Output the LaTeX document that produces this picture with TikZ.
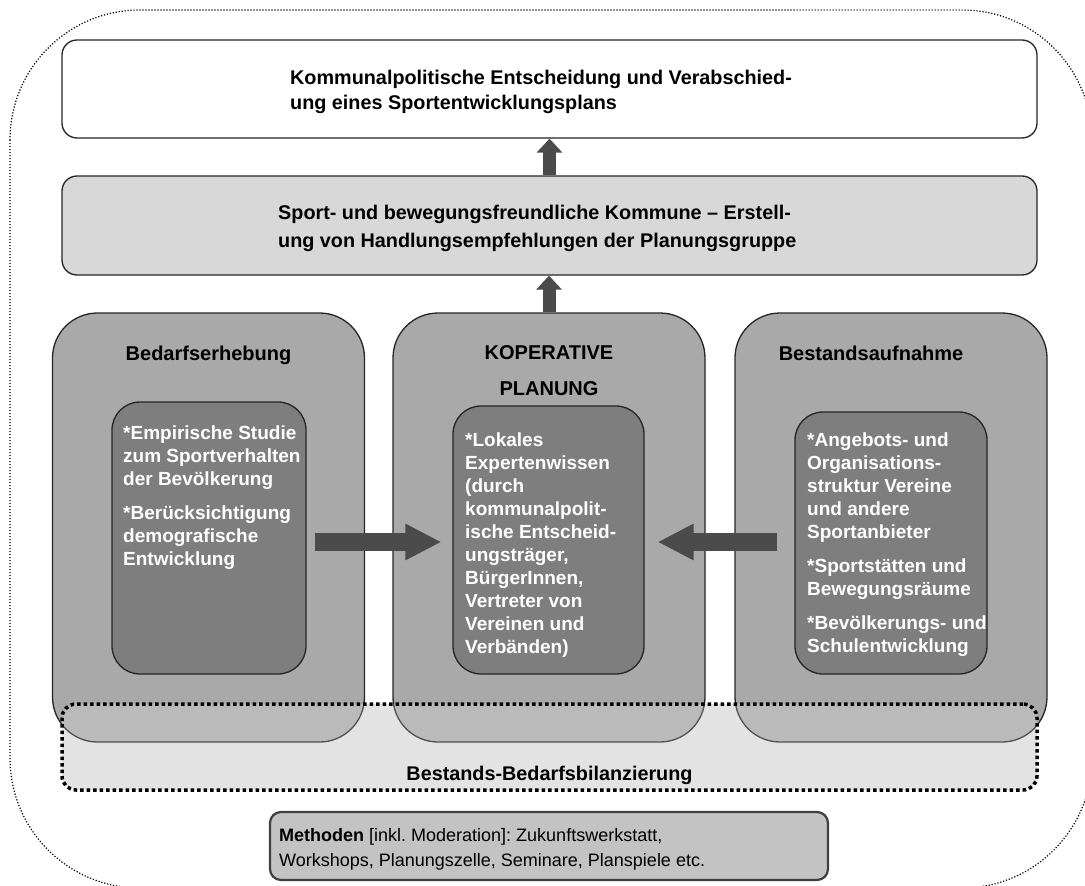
\documentclass[tikz,border=0pt]{standalone}
\usepackage{fontspec}
\setmainfont{Liberation Sans}
\usetikzlibrary{arrows.meta,calc}
\frenchspacing
\definecolor{edge}{HTML}{262626}
\definecolor{planfill}{HTML}{D8D8D8}
\definecolor{colfill}{HTML}{A9A9A9}
\definecolor{innerfill}{HTML}{7E7E7E}
\definecolor{arrowfill}{HTML}{4B4B4B}
\definecolor{bilfill}{HTML}{DDDDDD}
\definecolor{methfill}{HTML}{C3C3C3}
\definecolor{methedge}{HTML}{3F3F3F}
\begin{document}
\begin{tikzpicture}[x=1pt,y=-1pt,
  box/.style={draw=edge, line width=1.3pt, rounded corners=15pt, inner sep=0pt, minimum width=975pt},
  colbox/.style={draw=edge, line width=1.3pt, rounded corners=45pt, fill=colfill, minimum width=312pt, minimum height=429pt, inner sep=0pt},
  innerbox/.style={draw=edge, line width=1.3pt, rounded corners=28pt, fill=innerfill, inner sep=0pt},
  bilbox/.style={rounded corners=14pt, minimum width=975pt, minimum height=86pt, inner sep=0pt},
  headtxt/.style={font=\fontsize{19.8}{25}\selectfont\bfseries, align=left, inner sep=0pt, anchor=north west},
  coltxt/.style={font=\fontsize{20}{36}\selectfont\bfseries, inner sep=0pt, align=center},
  innertxt/.style={font=\fontsize{19}{23}\selectfont\bfseries, text=white, align=left, inner sep=0pt, anchor=north west},
  uparrow/.style={line width=13pt, color=arrowfill, -{Triangle[width=25pt,length=14pt]}},
  sidearrow/.style={line width=18pt, color=arrowfill, -{Triangle[width=34pt,length=36pt]}},
]
\useasboundingbox (0,0) rectangle (1085,886);
\clip (0,0) rectangle (1085,886);
% outer dotted frame
\draw[line width=1.2pt, dash pattern=on 1.2pt off 1.8pt, rounded corners=130pt] (10,10) rectangle (1092,888);

% top boxes
\node[box, fill=white, minimum height=98pt] (top) at (549.5,89) {};
\node[headtxt] (toptxt) at (290,70) {Kommunalpolitische Entscheidung und Verabschied-\\ung eines Sportentwicklungsplans};
\node[box, fill=planfill, minimum height=99pt] (plan) at (549.5,225.5) {};
\node[headtxt, font=\fontsize{19.8}{28}\selectfont\bfseries] (plantxt) at (278,205) {Sport- und bewegungsfreundliche Kommune – Erstell-\\ung von Handlungsempfehlungen der Planungsgruppe};

% balance box background
\node[bilbox, fill=bilfill] (bil) at (549.5,747) {};

% columns
\node[colbox] (bed) at (208.5,527.5) {};
\node[colbox] (coop) at (549,527.5) {};
\node[colbox] (best) at (891,527.5) {};

\draw[uparrow] (top.south |- plan.north) -- (top.south);
\draw[uparrow] (coop.north) -- (coop.north |- plan.south);

\node[coltxt, anchor=base] (bedtitle) at (208.5,360) {Bedarfserhebung};
\node[coltxt, anchor=north] (cooptitle) at (549,345) {KOPERATIVE\\PLANUNG};
\node[coltxt, anchor=base] (besttitle) at (871,360) {Bestandsaufnahme};

% inner boxes
\node[innerbox, minimum width=194pt, minimum height=272pt] (lin) at (209,538) {};
\node[innerbox, minimum width=191pt, minimum height=268pt] (min) at (548.5,540) {};
\node[innerbox, minimum width=192pt, minimum height=262pt] (rin) at (891,543) {};

\node[innertxt] (lintxt) at (123,426) {*Empirische Studie\\zum Sportverhalten\\der Bevölkerung\\[11pt]*Berücksichtigung\\demografische\\Entwicklung};
\node[innertxt] (mintxt) at (465,433) {*Lokales\\Expertenwissen\\(durch\\kommunalpolit-\\ische Entscheid-\\ungsträger,\\BürgerInnen,\\Vertreter von\\Vereinen und\\Verbänden)};
\node[innertxt] (rintxt) at (807,433) {*Angebots- und\\Organisations-\\struktur Vereine\\und andere\\Sportanbieter\\[11pt]*Sportstätten und\\Bewegungsräume\\[11pt]*Bevölkerungs- und\\Schulentwicklung};

% side arrows
\draw[sidearrow] ([shift={(8,4)}]lin.east) -- ([shift={(-11,2)}]min.west);
\draw[sidearrow] ([shift={(-17,-1)}]rin.west) -- ([shift={(13,2)}]min.east);

% balance box overlay and border
\node[bilbox, fill=white, fill opacity=0.2, draw=black, line width=3.5pt, dash pattern=on 3.5pt off 3pt] (bilover) at (bil) {};
\node[font=\fontsize{19.8}{24}\selectfont\bfseries, inner sep=0pt, anchor=base] (biltxt) at (549.5,780) {Bestands-Bedarfsbilanzierung};

% methods box
\node[draw=methedge, line width=2.2pt, rounded corners=11pt, fill=methfill, minimum width=558pt, minimum height=68pt, inner sep=0pt] (meth) at (549,846) {};
\node[font=\fontsize{18}{25}\selectfont, align=left, inner sep=0pt, anchor=north west] (methtxt) at (279,828) {\textbf{Methoden} [inkl. Moderation]: Zukunftswerkstatt,\\Workshops, Planungszelle, Seminare, Planspiele etc.};
\end{tikzpicture}
\end{document}
